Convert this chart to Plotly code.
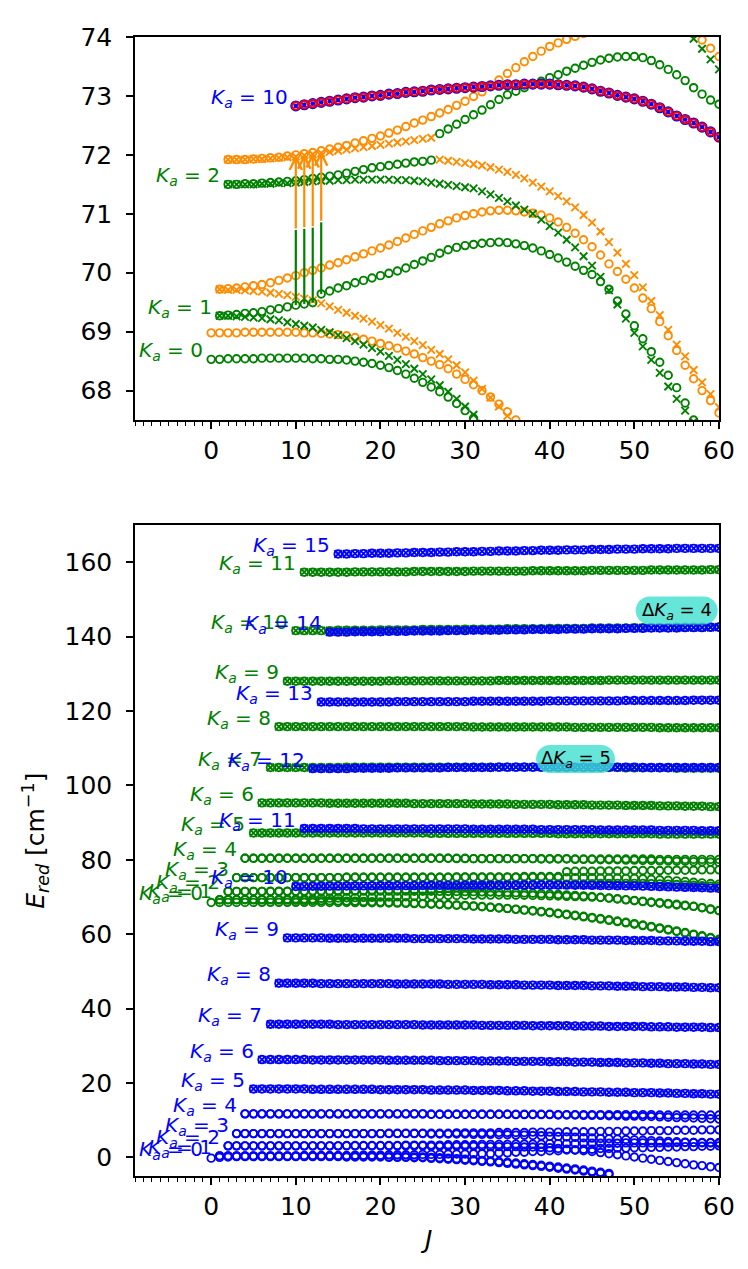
import plotly.graph_objects as go

GREEN = '#008000'
BLUE = '#0000ff'
ORANGE = '#ff8c00'
RED = '#ff0000'

# ---------------- data: reduced energies E_red [cm^-1] at integer J ----------------
# excited state (green), Ka = 0,1,2 (o = upper asym. component, x = lower)
G0o_J0 = 0
G0o = [68.53, 68.53, 68.54, 68.54, 68.54, 68.54, 68.55, 68.55, 68.55, 68.55, 68.55, 68.55, 68.54, 68.54, 68.53, 68.53,
       68.52, 68.50, 68.48, 68.46, 68.43, 68.39, 68.34, 68.28, 68.21, 68.14, 68.06, 67.98, 67.89, 67.78, 67.66,
       67.53, 67.38, 67.22, 67.05, 66.87, 66.67, 66.46, 66.24, 66.00, 65.76, 65.50, 65.24, 64.97, 64.67, 64.36,
       64.04, 63.71, 63.37, 63.03, 62.68, 62.31, 61.93, 61.54, 61.14, 60.73, 60.30, 59.87, 59.43, 58.98, 58.52]
G1x_J0 = 1
G1x = [69.27, 69.27, 69.26, 69.25, 69.24, 69.23, 69.21, 69.19, 69.16, 69.13,
       69.10, 69.07, 69.03, 68.99, 68.94, 68.89, 68.84, 68.78, 68.72, 68.66,
       68.59, 68.52, 68.45, 68.37, 68.28, 68.19, 68.09, 67.98, 67.86, 67.73,
       67.59, 67.44, 67.28, 67.11, 66.93, 66.74, 66.54, 66.33, 66.11, 65.88,
       65.63, 65.37, 65.10, 64.81, 64.51, 64.20, 63.87, 63.54, 63.19, 62.84,
       62.47, 62.09, 61.70, 61.30, 60.88, 60.45, 60.01, 59.56, 59.10, 58.63]
G1o_J0 = 1
G1o = [69.27, 69.28, 69.29, 69.31, 69.32, 69.34, 69.37, 69.39, 69.42, 69.45,
       69.47, 69.49, 69.64, 69.69, 69.74, 69.78, 69.83, 69.87, 69.91, 69.95,
       69.99, 70.03, 70.08, 70.14, 70.20, 70.26, 70.33, 70.39, 70.43, 70.46,
       70.48, 70.50, 70.51, 70.52, 70.51, 70.49, 70.46, 70.42, 70.37, 70.31,
       70.25, 70.18, 70.11, 70.04, 69.97, 69.85, 69.72, 69.52, 69.30, 69.10,
       68.88, 68.66, 68.48, 68.26, 68.05, 67.79, 67.50, 67.15, 66.75, 66.35]
G2o_J0 = 2
G2o = [71.50, 71.50, 71.51, 71.51, 71.52, 71.53, 71.54, 71.55, 71.56,
       71.58, 71.60, 71.62, 71.64, 71.66, 71.69, 71.72, 71.75, 71.78, 71.80,
       71.82, 71.84, 71.86, 71.88, 71.89, 71.91, 72.36, 72.44, 72.52, 72.60,
       72.68, 72.76, 72.85, 72.94, 73.02, 73.08, 73.14, 73.20, 73.25, 73.31,
       73.36, 73.42, 73.47, 73.52, 73.57, 73.61, 73.64, 73.66, 73.67, 73.67,
       73.65, 73.60, 73.53, 73.45, 73.36, 73.26, 73.14, 73.03, 72.93, 72.86]
G2x_J0 = 2
G2x = [71.50, 71.50, 71.50, 71.50, 71.51, 71.51, 71.52, 71.52, 71.53,
       71.54, 71.55, 71.56, 71.56, 71.57, 71.57, 71.58, 71.58, 71.58, 71.58,
       71.58, 71.57, 71.57, 71.56, 71.55, 71.53, 71.51, 71.49, 71.47, 71.45,
       71.43, 71.38, 71.33, 71.27, 71.21, 71.14, 71.07, 71.00, 70.90, 70.79,
       70.68, 70.56, 70.43, 70.28, 70.12, 69.93, 69.70, 69.46, 69.22, 68.98,
       68.75, 68.52, 68.30, 68.07, 67.86, 67.66, 67.47, 67.12, 66.72, 66.32]
# excited state Ka = 3 .. 11
G3o_J0 = 3
G3o = [75.2, 75.2, 75.2, 75.2, 75.2, 75.2, 75.2, 75.2, 75.2, 75.2, 75.2, 75.2, 75.2,
       75.3, 75.3, 75.3, 75.3, 75.3, 75.3, 75.3, 75.3, 75.3, 75.3, 75.3, 75.3, 75.3,
       75.4, 75.4, 75.4, 75.4, 75.4, 75.4, 75.4, 75.4, 75.5, 75.5, 75.5, 75.5, 75.5,
       76.8, 76.9, 76.9, 76.9, 77.0, 77.0, 77.0, 77.0, 77.1, 77.1, 77.1, 77.1,
       77.2, 77.2, 77.2, 77.2, 77.3, 77.3, 77.3]
G3x_J0 = 3
G3x = [75.2, 75.2, 75.2, 75.2, 75.2, 75.2, 75.2, 75.2, 75.2, 75.2, 75.2, 75.2, 75.2,
       75.3, 75.3, 75.3, 75.3, 75.3, 75.3, 75.3, 75.3, 75.3, 75.3, 75.3, 75.3, 75.3,
       75.3, 75.3, 75.3, 75.3, 75.3, 75.3, 75.3, 75.3, 75.3, 75.3, 75.3, 75.3,
       75.2, 75.2, 75.2, 75.2, 75.2, 75.1, 75.1, 75.1, 75.0, 75.0,
       74.90, 74.75, 74.62, 74.48, 74.32, 74.15, 73.97, 73.80, 73.62, 73.45]
G4o_J0 = 4
G4o = [80.4, 80.4, 80.4, 80.4, 80.4, 80.4, 80.4, 80.4, 80.4, 80.4, 80.4, 80.4, 80.4, 80.4, 80.4, 80.4, 80.4,
       80.4, 80.4, 80.4, 80.4, 80.4, 80.4, 80.4, 80.4,
       80.3, 80.3, 80.3, 80.3, 80.3, 80.3, 80.3, 80.3, 80.3, 80.3, 80.3, 80.3, 80.3, 80.3,
       80.2, 80.2, 80.2, 80.2, 80.2, 80.2, 80.2, 80.2, 80.2, 80.2,
       80.1, 80.1, 80.1, 80.1, 80.1, 80.1, 80.1, 80.1]
G4x_J0 = 4
G4x = [80.4, 80.4, 80.4, 80.4, 80.4, 80.4, 80.4, 80.4, 80.4, 80.4, 80.4, 80.4, 80.4, 80.4, 80.4, 80.4, 80.4,
       80.4, 80.4, 80.4, 80.4, 80.4, 80.4, 80.4, 80.4, 80.4, 80.4,
       80.3, 80.3, 80.3, 80.3, 80.3, 80.3, 80.3, 80.3, 80.2, 80.2, 80.2, 80.2,
       80.1, 80.1, 80.1, 80.0, 80.0, 80.0, 79.9, 79.9, 79.8, 79.8, 79.7, 79.7,
       79.6, 79.6, 79.5, 79.5, 79.4, 79.3]
G5_J0 = 5
G5 = [87.2, 87.2, 87.2, 87.2, 87.2, 87.2, 87.2, 87.2, 87.2, 87.2, 87.2, 87.2, 87.2, 87.2, 87.2, 87.2, 87.2,
      87.2, 87.2, 87.2, 87.2,
      87.1, 87.1, 87.1, 87.1, 87.1, 87.1, 87.1, 87.1, 87.1, 87.1, 87.1, 87.1, 87.1, 87.1, 87.1,
      87.0, 87.0, 87.0, 87.0, 87.0, 87.0, 87.0, 87.0, 87.0, 87.0, 87.0, 87.0,
      86.9, 86.9, 86.9, 86.9, 86.9, 86.9, 86.9, 86.9]
G6_J0 = 6
G6 = [95.3, 95.3, 95.3, 95.3, 95.3, 95.3, 95.3, 95.3,
      95.2, 95.2, 95.2, 95.2, 95.2, 95.2, 95.2, 95.2, 95.2, 95.2,
      95.1, 95.1, 95.1, 95.1, 95.1, 95.1, 95.1, 95.0, 95.0, 95.0, 95.0, 95.0,
      94.9, 94.9, 94.9, 94.9, 94.9, 94.8, 94.8, 94.8, 94.8, 94.7, 94.7, 94.7, 94.7,
      94.6, 94.6, 94.6, 94.6, 94.5, 94.5, 94.5, 94.4, 94.4, 94.4, 94.3, 94.3]
G7_J0 = 7
G7 = [104.8, 104.8, 104.8, 104.8, 104.8, 104.8, 104.8, 104.8, 104.8,
      104.9, 104.9, 104.9, 104.9, 104.9, 104.9, 104.9, 104.9, 104.9, 104.9, 104.9, 104.9, 104.9,
      104.9, 104.9, 104.9, 104.9, 104.9, 104.9, 104.9, 104.9, 104.9, 104.9, 104.9, 104.9,
      104.8, 104.8, 104.8, 104.8, 104.8, 104.8, 104.8, 104.8,
      104.7, 104.7, 104.7, 104.7, 104.7, 104.7, 104.6, 104.6, 104.6, 104.6, 104.6, 104.6]
G8_J0 = 8
G8 = [115.8, 115.8, 115.8, 115.8, 115.8, 115.8, 115.8, 115.8, 115.8, 115.8, 115.8, 115.8,
      115.8, 115.8, 115.8, 115.8, 115.8, 115.8, 115.8, 115.8, 115.8, 115.8, 115.8,
      115.7, 115.7, 115.7, 115.7, 115.7, 115.7, 115.7, 115.7, 115.7, 115.7, 115.7, 115.7,
      115.6, 115.6, 115.6, 115.6, 115.6, 115.6, 115.6, 115.6, 115.6, 115.6,
      115.5, 115.5, 115.5, 115.5, 115.5, 115.5, 115.5, 115.5]
G9_J0 = 9
G9 = [128.0, 128.0, 128.0, 128.0, 128.0, 128.0, 128.0, 128.0, 128.0, 128.0, 128.0, 128.0,
      128.1, 128.1, 128.1, 128.1, 128.1, 128.1, 128.1, 128.1, 128.1, 128.1, 128.1, 128.1, 128.1,
      128.2, 128.2, 128.2, 128.2, 128.2, 128.2, 128.2, 128.2, 128.2, 128.2, 128.2, 128.2, 128.2,
      128.3, 128.3, 128.3, 128.3, 128.3, 128.3, 128.3, 128.3, 128.3, 128.3, 128.3, 128.3, 128.3, 128.3]
G10_J0 = 10
G10 = [141.6, 141.6, 141.6, 141.6, 141.6, 141.7, 141.7, 141.7, 141.7, 141.7,
       141.8, 141.8, 141.8, 141.8, 141.8, 141.9, 141.9, 141.9, 141.9, 141.9,
       142.0, 142.0, 142.0, 142.0, 142.0, 142.1, 142.1, 142.1, 142.1, 142.1,
       142.2, 142.2, 142.2, 142.2, 142.2, 142.3, 142.3, 142.3, 142.3, 142.3,
       142.4, 142.4, 142.4, 142.4, 142.4, 142.5, 142.5, 142.5, 142.5, 142.5, 142.6]
G11_J0 = 11
G11 = [157.3, 157.3, 157.3, 157.3, 157.3, 157.3,
       157.4, 157.4, 157.4, 157.4, 157.4, 157.4, 157.4,
       157.5, 157.5, 157.5, 157.5, 157.5, 157.5, 157.5,
       157.6, 157.6, 157.6, 157.6, 157.6, 157.6, 157.6,
       157.7, 157.7, 157.7, 157.7, 157.7, 157.7, 157.7,
       157.8, 157.8, 157.8, 157.8, 157.8, 157.8, 157.8,
       157.9, 157.9, 157.9, 157.9, 157.9, 157.9, 157.9, 158.0, 158.0]

# second (orange) set, top panel only
O0o_J0 = 0
O0o = [68.98, 68.98, 68.98, 68.98, 68.99, 68.99, 68.99, 68.99, 68.99, 68.99, 68.99, 68.98, 68.98,
       68.97, 68.96, 68.95, 68.93, 68.90, 68.87, 68.84, 68.80, 68.76, 68.72, 68.67, 68.62, 68.56,
       68.50, 68.44, 68.37, 68.28, 68.19, 68.10, 68.00, 67.89, 67.77, 67.64, 67.50, 67.35]
O1x_J0 = 1
O1x = [69.72, 69.71, 69.71, 69.70, 69.69, 69.68, 69.66, 69.64, 69.62, 69.59,
       69.56, 69.53, 69.48, 69.43, 69.37, 69.32, 69.27, 69.22, 69.17, 69.11,
       69.05, 68.98, 68.91, 68.84, 68.77, 68.69, 68.62, 68.53, 68.43, 68.31,
       68.17, 68.03, 67.88, 67.73, 67.57, 67.40, 67.22]
O1o_J0 = 1
O1o = [69.72, 69.73, 69.74, 69.76, 69.78, 69.80, 69.83, 69.87, 69.91, 69.95,
       70.00, 70.04, 70.08, 70.13, 70.17, 70.22, 70.27, 70.32, 70.37, 70.42,
       70.47, 70.53, 70.59, 70.65, 70.71, 70.77, 70.83, 70.88, 70.93, 70.97,
       71.00, 71.03, 71.05, 71.06, 71.06, 71.05, 71.03, 71.01, 70.98, 70.93,
       70.86, 70.77, 70.67, 70.56, 70.44, 70.30, 70.15, 70.02, 69.89, 69.74,
       69.57, 69.39, 69.17, 68.93, 68.68, 68.43, 68.20, 68.00, 67.83, 67.62]
O2o_J0 = 2
O2o = [71.92, 71.92, 71.92, 71.93, 71.94, 71.95, 71.96, 71.98, 72.00,
       72.02, 72.04, 72.07, 72.10, 72.13, 72.16, 72.20, 72.24, 72.28, 72.32,
       72.37, 72.42, 72.48, 72.54, 72.59, 72.65, 72.71, 72.77, 72.84, 72.91,
       72.99, 73.07, 73.17, 73.27, 73.38, 73.48, 73.58, 73.67, 73.76, 73.84,
       73.90, 73.96, 74.01, 74.06]
O2x_J0 = 2
O2x = [71.92, 71.92, 71.92, 71.93, 71.93, 71.94, 71.95, 71.96, 71.97,
       71.99, 72.01, 72.03, 72.05, 72.07, 72.09, 72.11, 72.13, 72.15, 72.17,
       72.19, 72.21, 72.23, 72.25, 72.27, 72.29, 71.92, 71.90, 71.88, 71.86,
       71.84, 71.82, 71.79, 71.75, 71.71, 71.66, 71.60, 71.53, 71.46, 71.38,
       71.30, 71.21, 71.11, 70.98, 70.85, 70.70, 70.52, 70.34, 70.15, 69.96,
       69.75, 69.52, 69.28, 69.03, 68.78, 68.58, 68.35, 68.14, 67.94, 67.72]
O3o_J0 = 56
O3o = [74.12, 74.05, 73.95, 73.81, 73.67]

# ground state (blue)
B0_J0 = 0
B0 = [-0.2, 0.0, 0.1, 0.2, 0.2, 0.2, 0.2, 0.2, 0.2, 0.2, 0.2, 0.2, 0.2, 0.2, 0.2, 0.2,
      0.1, 0.1, 0.1, 0.1, 0.1, 0.0, 0.0, 0.0, -0.1, -0.1,
      -0.25, -0.35, -0.5, -0.6, -0.75, -0.9, -1.05, -1.2, -1.4, -1.6, -1.8, -2.0, -2.2, -2.4,
      -2.65, -2.9, -3.15, -3.4, -3.7, -4.0, -4.3, -4.6]
B1x_J0 = 1
B1x = [0.4, 0.4, 0.4, 0.4, 0.4, 0.4, 0.4, 0.4, 0.4, 0.4, 0.4, 0.4, 0.4, 0.4, 0.4,
       0.3, 0.3, 0.3, 0.3, 0.3, 0.2, 0.2, 0.2, 0.1, 0.1,
       0.0, -0.1, -0.2, -0.35, -0.5, -0.65, -0.8, -0.95, -1.1, -1.3, -1.5, -1.7, -1.9, -2.1,
       -2.35, -2.6, -2.85, -3.1, -3.4, -3.7, -4.0, -4.3]
B1o_J0 = 1
B1o = [0.4, 0.4, 0.4, 0.4, 0.4, 0.4, 0.4, 0.4, 0.4, 0.4, 0.5, 0.5, 0.5, 0.5, 0.5, 0.5,
       0.6, 0.6, 0.6, 0.6, 0.7, 0.7, 0.7, 0.7, 0.8, 0.8, 0.8, 0.9, 0.9, 0.9, 1.0, 1.0, 1.0,
       1.2, 1.2, 1.4, 1.4, 1.6, 1.6, 1.8, 1.8, 2.0, 2.0, 2.2, 2.2, 2.4, 2.4, 2.5, 2.5,
       2.6, 2.6, 2.7, 2.7, 2.8, 2.8, 2.9, 2.9, 3.0, 3.0, 3.1]
B2o_J0 = 2
B2o = [3.1, 3.1, 3.1, 3.1, 3.1, 3.1, 3.1, 3.1, 3.1, 3.1, 3.1, 3.1, 3.1, 3.1,
       3.2, 3.2, 3.2, 3.2, 3.2, 3.2, 3.2, 3.3, 3.3, 3.3, 3.3, 3.3, 3.4, 3.4, 3.4, 3.4,
       3.5, 3.5, 3.5, 3.5, 3.6, 3.6, 3.6, 3.6, 3.7, 3.7, 3.7, 3.7, 3.8, 3.8, 3.8, 3.8, 3.8,
       3.9, 3.9, 3.9, 3.9, 3.9, 3.9, 4.0, 4.0, 4.0, 4.0, 4.0, 4.0]
B2x_J0 = 2
B2x = [3.1, 3.1, 3.1, 3.1, 3.1, 3.1, 3.1, 3.1, 3.1, 3.1, 3.1, 3.1, 3.1, 3.1, 3.1, 3.1,
       3.1, 3.1, 3.1, 3.1, 3.1, 3.1, 3.1, 3.1, 3.0, 3.0, 3.0, 3.0, 3.0, 3.0, 3.0,
       2.9, 2.9, 2.9, 2.9, 2.8, 2.8,
       2.7, 2.6, 2.4, 2.2, 2.0, 1.8, 1.6, 1.3, 1.0, 0.7, 0.4, 0.1, -0.2, -0.5, -0.8,
       -1.1, -1.4, -1.7, -2.0, -2.2, -2.5, -2.7]
B3o_J0 = 3
B3o = [6.4, 6.4, 6.4, 6.4, 6.4, 6.4, 6.4, 6.4, 6.4, 6.4, 6.4, 6.4, 6.4, 6.4, 6.4, 6.4, 6.4, 6.4,
       6.5, 6.5, 6.5, 6.5, 6.5, 6.5, 6.5, 6.5, 6.6, 6.6, 6.6, 6.6, 6.6, 6.7, 6.7, 6.7, 6.7,
       6.8, 6.8, 6.8, 6.8, 6.9, 6.9, 6.9, 6.9, 7.0, 7.0, 7.0, 7.1, 7.1, 7.1, 7.2, 7.2, 7.2,
       7.3, 7.3, 7.3, 7.4, 7.4, 7.4]
B3x_J0 = 3
B3x = [6.4, 6.4, 6.4, 6.4, 6.4, 6.4, 6.4, 6.4, 6.4, 6.4, 6.4, 6.4, 6.4, 6.4, 6.4, 6.4, 6.4, 6.4,
       6.4, 6.4, 6.4, 6.4, 6.4, 6.3, 6.3, 6.3, 6.3, 6.3, 6.2, 6.2, 6.2, 6.1, 6.1, 6.0, 6.0,
       5.9, 5.8, 5.7, 5.6, 5.5, 5.4, 5.3, 5.2, 5.1, 5.0, 4.9, 4.8, 4.7, 4.6, 4.5, 4.4, 4.3,
       4.2, 4.1, 4.0, 3.95, 3.9, 3.8]
B4o_J0 = 4
B4o = [11.7, 11.7, 11.7, 11.7, 11.7, 11.7, 11.7, 11.7, 11.7, 11.7, 11.7, 11.7, 11.7, 11.7,
       11.7, 11.7, 11.7, 11.7, 11.7, 11.7, 11.7, 11.7,
       11.6, 11.6, 11.6, 11.6, 11.6, 11.6, 11.6, 11.6, 11.6, 11.6, 11.6, 11.6, 11.6, 11.6, 11.6,
       11.5, 11.5, 11.5, 11.5, 11.5, 11.5, 11.5, 11.5, 11.5, 11.5, 11.5, 11.5,
       11.4, 11.4, 11.4, 11.4, 11.4, 11.4, 11.4, 11.4]
B4x_J0 = 4
B4x = [11.7, 11.7, 11.7, 11.7, 11.7, 11.7, 11.7, 11.7, 11.7, 11.7, 11.7, 11.7, 11.7, 11.7,
       11.7, 11.7, 11.7, 11.7, 11.7, 11.7, 11.7, 11.7,
       11.6, 11.6, 11.6, 11.6, 11.6, 11.6, 11.6, 11.6, 11.6, 11.6,
       11.5, 11.5, 11.5, 11.5, 11.5, 11.4, 11.4, 11.4, 11.3, 11.3, 11.3,
       11.2, 11.2, 11.1, 11.1, 11.0, 11.0, 10.9, 10.8, 10.7, 10.65, 10.6, 10.5, 10.4, 10.3]
B5_J0 = 5
B5 = [18.4, 18.4, 18.4, 18.4, 18.4, 18.4, 18.4, 18.3, 18.3, 18.3, 18.3, 18.3, 18.3, 18.3, 18.3,
      18.2, 18.2, 18.2, 18.2, 18.2, 18.2, 18.1, 18.1, 18.1, 18.1, 18.1, 18.0, 18.0, 18.0, 18.0,
      17.9, 17.9, 17.9, 17.8, 17.8, 17.8, 17.7, 17.7, 17.7, 17.6, 17.6, 17.6, 17.5, 17.5, 17.5,
      17.4, 17.4, 17.4, 17.3, 17.3, 17.2, 17.2, 17.1, 17.1, 17.0, 17.0]
B6_J0 = 6
B6 = [26.3, 26.3, 26.3, 26.3, 26.3, 26.3, 26.2, 26.2, 26.2, 26.2, 26.2, 26.2, 26.2, 26.2, 26.2,
      26.1, 26.1, 26.1, 26.1, 26.1, 26.1, 26.0, 26.0, 26.0, 26.0, 26.0, 25.9, 25.9, 25.9, 25.9,
      25.8, 25.8, 25.8, 25.8, 25.7, 25.7, 25.7, 25.6, 25.6, 25.6, 25.5, 25.5, 25.5,
      25.4, 25.4, 25.4, 25.3, 25.3, 25.2, 25.2, 25.2, 25.1, 25.1, 25.0, 25.0]
B7_J0 = 7
B7 = [35.8, 35.8, 35.8, 35.8, 35.8, 35.8, 35.8, 35.8, 35.7, 35.7, 35.7, 35.7, 35.7, 35.7, 35.7,
      35.7, 35.7, 35.7, 35.6, 35.6, 35.6, 35.6, 35.6, 35.6, 35.6, 35.5, 35.5, 35.5, 35.5, 35.5,
      35.5, 35.4, 35.4, 35.4, 35.4, 35.4, 35.3, 35.3, 35.3, 35.3, 35.2, 35.2, 35.2, 35.2, 35.2,
      35.1, 35.1, 35.1, 35.0, 35.0, 35.0, 35.0, 34.9, 34.9]
B8_J0 = 8
B8 = [46.8, 46.8, 46.8, 46.8, 46.8, 46.7, 46.7, 46.7, 46.7, 46.7, 46.7, 46.7, 46.7, 46.7,
      46.6, 46.6, 46.6, 46.6, 46.6, 46.6, 46.5, 46.5, 46.5, 46.5, 46.5, 46.4, 46.4, 46.4, 46.4,
      46.3, 46.3, 46.3, 46.3, 46.2, 46.2, 46.2, 46.2, 46.1, 46.1, 46.1, 46.0, 46.0, 46.0,
      45.9, 45.9, 45.9, 45.8, 45.8, 45.8, 45.7, 45.7, 45.6, 45.6]
B9_J0 = 9
B9 = [59.0, 59.0, 59.0, 59.0, 59.0, 58.9, 58.9, 58.9, 58.9, 58.9, 58.9, 58.9, 58.9, 58.9, 58.9,
      58.8, 58.8, 58.8, 58.8, 58.8, 58.8, 58.8, 58.7, 58.7, 58.7, 58.7, 58.7,
      58.6, 58.6, 58.6, 58.6, 58.6, 58.5, 58.5, 58.5, 58.5, 58.4, 58.4, 58.4, 58.4,
      58.3, 58.3, 58.3, 58.3, 58.2, 58.2, 58.2, 58.1, 58.1, 58.1, 58.0, 58.0]
B10_J0 = 10
B10 = [72.83, 72.85, 72.87, 72.89, 72.91, 72.93, 72.95, 72.97, 72.98, 73.00,
       73.01, 73.03, 73.04, 73.06, 73.07, 73.08, 73.10, 73.11, 73.12, 73.13,
       73.14, 73.15, 73.16, 73.17, 73.18, 73.19, 73.19, 73.20, 73.20, 73.20,
       73.20, 73.19, 73.18, 73.17, 73.15, 73.12, 73.08, 73.05, 73.01, 72.98,
       72.95, 72.91, 72.86, 72.80, 72.73, 72.66, 72.60, 72.54, 72.47, 72.39, 72.30]
B11_J0 = 11
B11 = [88.4, 88.4, 88.4, 88.4, 88.4, 88.4, 88.4,
       88.3, 88.3, 88.3, 88.3, 88.3, 88.3, 88.3, 88.3, 88.3, 88.3, 88.3, 88.3, 88.3,
       88.2, 88.2, 88.2, 88.2, 88.2, 88.2, 88.2, 88.2, 88.1, 88.1, 88.1, 88.1, 88.1, 88.1, 88.1,
       88.0, 88.0, 88.0, 88.0, 88.0, 88.0, 88.0, 87.9, 87.9, 87.9, 87.9, 87.9, 87.8, 87.8, 87.8]
B12_J0 = 12
B12 = [104.5, 104.5, 104.5, 104.5, 104.5, 104.6, 104.6, 104.6, 104.6, 104.6,
       104.7, 104.7, 104.7, 104.7, 104.7, 104.7, 104.8, 104.8, 104.8, 104.8, 104.8, 104.8,
       104.9, 104.9, 104.9, 104.9, 104.9, 104.9, 104.9, 104.9, 104.9, 104.9, 104.9, 104.9,
       104.9, 104.9, 104.9, 104.9, 104.9,
       104.8, 104.8, 104.8, 104.8, 104.8, 104.8, 104.8, 104.8, 104.8, 104.8]
B13_J0 = 13
B13 = [122.4, 122.4, 122.4, 122.4, 122.4, 122.4, 122.4, 122.4, 122.4,
       122.5, 122.5, 122.5, 122.5, 122.5, 122.5, 122.5, 122.5, 122.5,
       122.6, 122.6, 122.6, 122.6, 122.6, 122.6, 122.6, 122.6, 122.6,
       122.7, 122.7, 122.7, 122.7, 122.7, 122.7, 122.7, 122.7, 122.7,
       122.8, 122.8, 122.8, 122.8, 122.8, 122.8, 122.8, 122.8, 122.9, 122.9, 122.9, 122.9]
B14_J0 = 14
B14 = [141.2, 141.2, 141.2, 141.3, 141.3, 141.3, 141.3, 141.4, 141.4, 141.4,
       141.5, 141.5, 141.5, 141.5, 141.6, 141.6, 141.6, 141.7, 141.7, 141.7, 141.7,
       141.8, 141.8, 141.8, 141.9, 141.9, 141.9, 141.9, 142.0, 142.0, 142.0,
       142.1, 142.1, 142.1, 142.1, 142.2, 142.2, 142.2, 142.3, 142.3, 142.3, 142.3,
       142.4, 142.4, 142.4, 142.5, 142.5]
B15_J0 = 15
B15 = [162.2, 162.2, 162.3, 162.3, 162.4, 162.4, 162.4, 162.5, 162.5, 162.6,
       162.6, 162.6, 162.7, 162.7, 162.8, 162.8, 162.8, 162.9, 162.9, 163.0,
       163.0, 163.0, 163.1, 163.1, 163.2, 163.2, 163.2, 163.3, 163.3, 163.3,
       163.4, 163.4, 163.4, 163.5, 163.5, 163.5, 163.6, 163.6, 163.6, 163.6,
       163.7, 163.7, 163.7, 163.7, 163.7, 163.7]

ARROW_J = [10, 11, 12, 13]
X_TICKS = [0, 10, 20, 30, 40, 50, 60]
TOP_Y_TICKS = [68, 69, 70, 71, 72, 73, 74]
BOT_Y_TICKS = [0, 20, 40, 60, 80, 100, 120, 140, 160]

# ---------------- figure ----------------
fig = go.Figure()
MS = 7.5
LW = 1.9


def add(ax, J0, E, color, sym, size=MS, lw=LW):
    xa, ya = ('x', 'y') if ax == 'top' else ('x2', 'y2')
    J = list(range(J0, J0 + len(E)))
    fig.add_trace(go.Scatter(
        x=J, y=E, mode='markers', xaxis=xa, yaxis=ya, showlegend=False, hoverinfo='skip',
        marker=dict(symbol=sym, size=size, color=color, line=dict(color=color, width=lw))))


CO = 'circle-open'
XO = 'x-thin-open'

# ---- top panel ----
add('top', O0o_J0, O0o, ORANGE, CO)
add('top', O1o_J0, O1o, ORANGE, CO)
add('top', O1x_J0, O1x, ORANGE, XO)
add('top', O2o_J0, O2o, ORANGE, CO)
add('top', O2x_J0, O2x, ORANGE, XO)
add('top', O3o_J0, O3o, ORANGE, CO)
add('top', G0o_J0, G0o, GREEN, CO)
add('top', G1o_J0, G1o, GREEN, CO)
add('top', G1x_J0, G1x, GREEN, XO)
add('top', G2o_J0, G2o, GREEN, CO)
add('top', G2x_J0, G2x, GREEN, XO)
add('top', G3x_J0, G3x, GREEN, XO)
add('top', B10_J0, B10, BLUE, CO, size=8.5, lw=2.6)
add('top', B10_J0, B10, RED, CO, size=7.5, lw=1.8)
add('top', B10_J0, B10, RED, XO, size=6.5, lw=1.5)
add('top', B10_J0, B10, BLUE, 'asterisk-open', size=4, lw=1.2)

# arrows J=10..13 : green lower half, orange upper half with head
seg_x, seg_y = [], []
arrows = []
for j in ARROW_J:
    lo = G1o[j - G1o_J0]
    hi = O2o[j - O2o_J0]
    mid = 0.5 * (lo + hi)
    seg_x += [j, j, None]
    seg_y += [lo, mid, None]
    arrows.append(dict(x=j, y=hi, ax=j, ay=mid, xref='x', yref='y', axref='x', ayref='y',
                       showarrow=True, arrowhead=5, arrowsize=1.1, arrowwidth=2.2,
                       arrowcolor=ORANGE, text='', standoff=0, startstandoff=0))
fig.add_trace(go.Scatter(x=seg_x, y=seg_y, mode='lines', xaxis='x', yaxis='y', showlegend=False,
                         hoverinfo='skip', line=dict(color=GREEN, width=2.2)))

# ---- bottom panel ----
for J0, E in [(G0o_J0, G0o), (G1o_J0, G1o), (G1x_J0, G1x), (G2o_J0, G2o), (G2x_J0, G2x),
              (G3o_J0, G3o), (G3x_J0, G3x), (G4o_J0, G4o), (G4x_J0, G4x)]:
    add('bot', J0, E, GREEN, CO)
for J0, E in [(G5_J0, G5), (G6_J0, G6), (G7_J0, G7), (G8_J0, G8), (G9_J0, G9), (G10_J0, G10), (G11_J0, G11)]:
    add('bot', J0, E, GREEN, CO)
    add('bot', J0, E, GREEN, XO)

for J0, E in [(B0_J0, B0), (B1o_J0, B1o), (B1x_J0, B1x), (B2o_J0, B2o), (B2x_J0, B2x),
              (B3o_J0, B3o), (B3x_J0, B3x), (B4o_J0, B4o), (B4x_J0, B4x)]:
    add('bot', J0, E, BLUE, CO)
for J0, E in [(B5_J0, B5), (B6_J0, B6), (B7_J0, B7), (B8_J0, B8), (B9_J0, B9), (B10_J0, B10),
              (B11_J0, B11), (B12_J0, B12), (B13_J0, B13), (B14_J0, B14), (B15_J0, B15)]:
    add('bot', J0, E, BLUE, CO)
    add('bot', J0, E, BLUE, XO)

# ---- Ka labels ----
FONT = 'DejaVu Sans'
anns = list(arrows)


def ka_label(xr, yr, ka, J0, E0, color):
    anns.append(dict(x=J0, y=E0, xref=xr, yref=yr, showarrow=False, xanchor='right', yanchor='middle',
                     xshift=-6, yshift=8, text=f'<i>K</i><sub><i>a</i></sub> = {ka}',
                     font=dict(family=FONT, size=20, color=color)))


ka_label('x', 'y', 10, B10_J0, B10[0], BLUE)
ka_label('x', 'y', 2, G2o_J0, G2o[0], GREEN)
ka_label('x', 'y', 1, G1o_J0, G1o[0], GREEN)
ka_label('x', 'y', 0, G0o_J0, G0o[0], GREEN)

green_starts = [(0, G0o_J0, G0o[0]), (1, G1o_J0, G1o[0]), (2, G2o_J0, G2o[0]), (3, G3o_J0, G3o[0]),
                (4, G4o_J0, G4o[0]), (5, G5_J0, G5[0]), (6, G6_J0, G6[0]), (7, G7_J0, G7[0]),
                (8, G8_J0, G8[0]), (9, G9_J0, G9[0]), (10, G10_J0, G10[0]), (11, G11_J0, G11[0])]
blue_starts = [(0, B0_J0, B0[0]), (1, B1o_J0, B1o[0]), (2, B2o_J0, B2o[0]), (3, B3o_J0, B3o[0]),
               (4, B4o_J0, B4o[0]), (5, B5_J0, B5[0]), (6, B6_J0, B6[0]), (7, B7_J0, B7[0]),
               (8, B8_J0, B8[0]), (9, B9_J0, B9[0]), (10, B10_J0, B10[0]), (11, B11_J0, B11[0]),
               (12, B12_J0, B12[0]), (13, B13_J0, B13[0]), (14, B14_J0, B14[0]), (15, B15_J0, B15[0])]
for ka, J0, E0 in green_starts:
    ka_label('x2', 'y2', ka, J0, E0, GREEN)
for ka, J0, E0 in blue_starts:
    ka_label('x2', 'y2', ka, J0, E0, BLUE)

# ---- Delta Ka boxes ----


def pill(w, h):
    r = h / 2.0
    a = w / 2.0 - r
    k = 0.5523 * r
    return (f'M {-a:.2f},{-r:.2f} L {a:.2f},{-r:.2f} '
            f'C {a + k:.2f},{-r:.2f} {a + r:.2f},{-k:.2f} {a + r:.2f},0 '
            f'C {a + r:.2f},{k:.2f} {a + k:.2f},{r:.2f} {a:.2f},{r:.2f} '
            f'L {-a:.2f},{r:.2f} '
            f'C {-a - k:.2f},{r:.2f} {-a - r:.2f},{k:.2f} {-a - r:.2f},0 '
            f'C {-a - r:.2f},{-k:.2f} {-a - k:.2f},{-r:.2f} {-a:.2f},{-r:.2f} Z')


DK_TEXT = ['4', '5']
DK_J = [55.0, 43.05]
DK_E = [147.0, 107.1]
DK_W = [82, 79]
shapes = []
for t, jx, ey, w in zip(DK_TEXT, DK_J, DK_E, DK_W):
    shapes.append(dict(type='path', xref='x2', yref='y2', xsizemode='pixel', ysizemode='pixel',
                       xanchor=jx, yanchor=ey, path=pill(w, 28), fillcolor='rgba(64,224,208,0.8)',
                       line=dict(width=0), layer='above'))
    anns.append(dict(x=jx, y=ey, xref='x2', yref='y2', showarrow=False, xanchor='center', yanchor='middle',
                     text=f'Δ<i>K</i><sub><i>a</i></sub> = {t}', font=dict(family=FONT, size=18, color='black')))

# ---- axis titles ----
anns.append(dict(x=0.498, y=-0.056, xref='paper', yref='paper', showarrow=False, xanchor='center',
                 yanchor='middle', text='<i>J</i>', font=dict(family=FONT, size=25, color='black')))
anns.append(dict(x=-0.17, y=0.294, xref='paper', yref='paper', showarrow=False, xanchor='center',
                 yanchor='middle', textangle=-90,
                 text='<i>E</i><sub><i>red</i></sub> [cm<sup>−1</sup>]',
                 font=dict(family=FONT, size=25, color='black')))

common = dict(showline=True, linecolor='black', linewidth=1.5, mirror=True, ticks='outside',
              ticklen=7, tickwidth=1.5, tickcolor='black', showgrid=False, zeroline=False,
              tickfont=dict(family=FONT, size=25, color='black'))
xcommon = dict(range=[-9, 60], tickmode='array', tickvals=X_TICKS, ticktext=[str(v) for v in X_TICKS],
               minor=dict(dtick=1, tick0=0, ticks='outside', ticklen=4, tickwidth=1, tickcolor='black'),
               domain=[0, 1], **common)

fig.update_layout(
    width=748, height=1269,
    margin=dict(l=127, r=37, t=29, b=101),
    paper_bgcolor='white', plot_bgcolor='white',
    showlegend=False,
    xaxis=dict(anchor='y', **xcommon),
    yaxis=dict(anchor='x', domain=[0.6637, 1.0], range=[67.5, 74], tickmode='array',
               ticklabelstandoff=9,
               tickvals=TOP_Y_TICKS, ticktext=[str(v) for v in TOP_Y_TICKS], **common),
    xaxis2=dict(anchor='y2', **xcommon),
    yaxis2=dict(anchor='x2', domain=[0.0, 0.5716], range=[-5, 170], tickmode='array',
                ticklabelstandoff=9,
                tickvals=BOT_Y_TICKS, ticktext=[str(v) for v in BOT_Y_TICKS], **common),
    annotations=anns,
    shapes=shapes,
)

fig.write_html('out.html')
